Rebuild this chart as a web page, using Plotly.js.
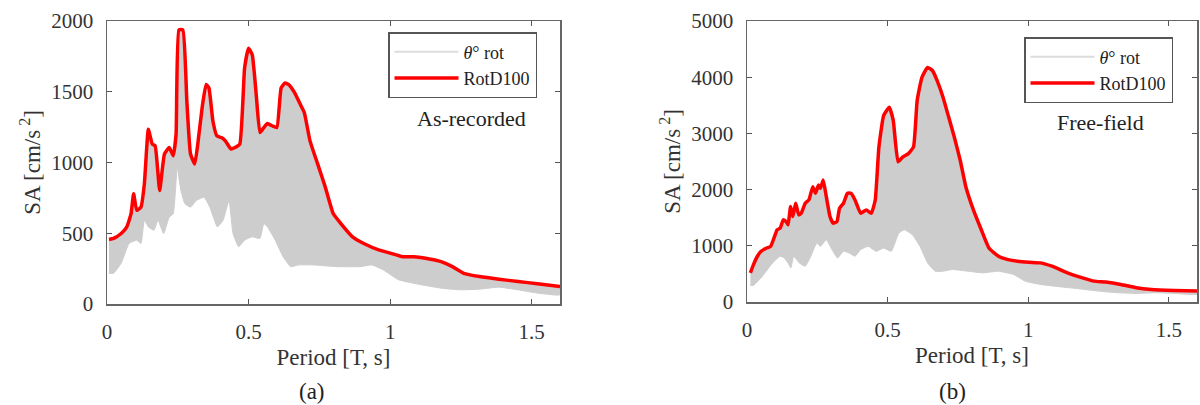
<!DOCTYPE html>
<html>
<head>
<meta charset="utf-8">
<script src="https://cdn.plot.ly/plotly-3.0.1.min.js"></script>
<style>html,body{margin:0;padding:0;background:#fff;}#chart{width:1200px;height:405px;}</style>
</head>
<body>
<div id="chart"></div>
<script>
// ---- Panel (a): As-recorded ----
var aRotT  = [0.007,0.023,0.05,0.07,0.085,0.094,0.105,0.12,0.132,0.146,0.16,0.17,0.186,0.203,0.22,0.234,0.244,0.254,0.268,0.282,0.295,0.31,0.322,0.336,0.35,0.36,0.374,0.388,0.404,0.418,0.438,0.452,0.469,0.486,0.5,0.513,0.527,0.54,0.554,0.567,0.584,0.6,0.615,0.629,0.642,0.663,0.683,0.697,0.717,0.744,0.771,0.799,0.826,0.867,0.907,0.962,1.003,1.044,1.084,1.125,1.18,1.22,1.26,1.316,1.384,1.452,1.52,1.6];
var aRotSA = [456,463,498,545,638,779,662,685,849,1235,1130,1118,802,1060,1106,1048,1200,1937,1937,1434,1060,990,1153,1387,1551,1527,1293,1188,1176,1153,1095,1106,1130,1668,1808,1761,1481,1212,1247,1275,1258,1247,1527,1562,1551,1492,1410,1352,1153,990,826,639,568,475,428,381,358,334,334,323,299,264,217,194,175,159,143,124];
var aMinT  = [0.007,0.023,0.05,0.078,0.105,0.12,0.132,0.146,0.166,0.18,0.2,0.22,0.234,0.248,0.261,0.275,0.295,0.316,0.343,0.363,0.39,0.41,0.431,0.445,0.465,0.486,0.513,0.54,0.554,0.567,0.594,0.622,0.649,0.676,0.73,0.812,0.894,0.935,0.976,1.03,1.11,1.18,1.248,1.316,1.384,1.452,1.52,1.6];
var aMinSA = [217,217,288,428,451,428,592,545,522,592,498,615,638,966,802,709,685,732,755,685,545,592,732,498,405,451,475,463,568,545,451,334,264,276,276,264,264,276,241,171,136,112,100,105,119,100,77,65];

// ---- Panel (b): Free-field ----
var bRotT  = [0.012,0.023,0.037,0.05,0.07,0.084,0.098,0.107,0.118,0.129,0.139,0.146,0.155,0.163,0.173,0.184,0.193,0.207,0.22,0.234,0.244,0.254,0.261,0.271,0.282,0.295,0.306,0.32,0.329,0.343,0.357,0.37,0.384,0.404,0.424,0.442,0.456,0.469,0.486,0.506,0.52,0.537,0.554,0.574,0.592,0.605,0.622,0.642,0.66,0.676,0.697,0.717,0.737,0.758,0.778,0.805,0.833,0.86,0.894,0.928,0.962,1.003,1.044,1.084,1.139,1.193,1.234,1.275,1.329,1.384,1.438,1.52,1.6];
var bRotSA = [519,666,814,902,961,990,1167,1285,1315,1462,1433,1374,1698,1521,1757,1551,1580,1757,1816,2052,1934,2081,2022,2170,1875,1521,1403,1433,1669,1757,1934,1934,1816,1580,1639,1580,1816,2759,3319,3467,3231,2494,2582,2641,2759,3585,3998,4174,4115,3938,3644,3290,2936,2523,2052,1639,1285,961,814,755,725,707,696,637,519,430,371,354,312,254,224,206,195];
var bMinT  = [0.012,0.023,0.05,0.091,0.118,0.132,0.146,0.156,0.166,0.186,0.207,0.227,0.248,0.261,0.282,0.302,0.322,0.343,0.363,0.384,0.404,0.431,0.459,0.486,0.513,0.54,0.56,0.588,0.615,0.642,0.669,0.697,0.73,0.785,0.839,0.894,0.948,0.989,1.044,1.112,1.18,1.248,1.316,1.384,1.452,1.52,1.6];
var bMinSA = [295,295,430,696,814,784,696,607,814,696,637,814,1049,990,1108,932,784,902,873,814,932,990,902,961,902,1226,1285,1197,990,696,548,548,578,548,519,548,489,371,312,271,236,195,165,153,165,153,136];

var xTickVals = [0, 0.5, 1, 1.5];
var xTickText = ['0', '0.5', '1', '1.5'];
var aYTicks = [0, 500, 1000, 1500, 2000];
var bYTicks = [0, 1000, 2000, 3000, 4000, 5000];

var FONT = '"Liberation Serif", "Times New Roman", serif';
var BAND = '#cdcdcd';
var RED = '#ff0000';

function band(tU, sU, tL, sL, xa, ya) {
  return {
    x: tU.concat(tL.slice().reverse()),
    y: sU.concat(sL.slice().reverse()),
    xaxis: xa, yaxis: ya,
    type: 'scatter', mode: 'lines', fill: 'toself',
    fillcolor: BAND, line: {color: BAND, width: 1, shape: 'spline', smoothing: 0.4},
    showlegend: false, hoverinfo: 'skip'
  };
}
function legGray(xa, ya, leg) {
  return {x: [null], y: [null], xaxis: xa, yaxis: ya, type: 'scatter', mode: 'lines',
    name: '<i>θ</i>° rot', line: {color: '#dcdcdc', width: 2}, legend: leg};
}
function redLine(t, s, xa, ya, leg) {
  return {x: t, y: s, xaxis: xa, yaxis: ya, type: 'scatter', mode: 'lines',
    name: 'RotD100', line: {color: RED, width: 3.5, shape: 'spline', smoothing: 0.4}, legend: leg};
}

var data = [
  band(aRotT, aRotSA, aMinT, aMinSA, 'x', 'y'),
  legGray('x', 'y', 'legend'),
  redLine(aRotT, aRotSA, 'x', 'y', 'legend'),
  band(bRotT, bRotSA, bMinT, bMinSA, 'x2', 'y2'),
  legGray('x2', 'y2', 'legend2'),
  redLine(bRotT, bRotSA, 'x2', 'y2', 'legend2')
];

function xAxis(dom, anchor) {
  return {
    domain: dom, anchor: anchor, range: [0, 1.6],
    tickvals: xTickVals, ticktext: xTickText,
    ticks: 'inside', ticklen: 5, tickwidth: 1, tickcolor: '#555',
    showline: true, linecolor: '#666', linewidth: 1.5, mirror: 'ticks',
    showgrid: false, zeroline: false, ticklabelstandoff: 8,
    tickfont: {family: FONT, size: 21, color: '#333'},
    title: {text: 'Period [T, s]', font: {family: FONT, size: 23, color: '#333'}, standoff: 6}
  };
}
function yAxis(dom, anchor, rng, tv) {
  return {
    domain: dom, anchor: anchor, range: rng, tickvals: tv,
    ticks: 'inside', ticklen: 5, tickwidth: 1, tickcolor: '#555',
    showline: true, linecolor: '#666', linewidth: 1.5, mirror: 'ticks',
    showgrid: false, zeroline: false, ticklabelstandoff: 8,
    tickfont: {family: FONT, size: 21, color: '#333'},
    title: {text: 'SA [cm/s<sup> 2</sup>]', font: {family: FONT, size: 23, color: '#333'}, standoff: 4}
  };
}

var layout = {
  width: 1200, height: 405,
  margin: {l: 0, r: 0, t: 0, b: 0},
  paper_bgcolor: '#fff', plot_bgcolor: '#fff',
  font: {family: FONT, color: '#222'},
  xaxis: xAxis([107/1200, 560/1200], 'y'),
  yaxis: yAxis([1 - 304/405, 1 - 21/405], 'x', [0, 2000], aYTicks),
  xaxis2: xAxis([747/1200, 1197/1200], 'y2'),
  yaxis2: yAxis([1 - 302/405, 1 - 21/405], 'x2', [0, 5000], bYTicks),
  legend: {x: 388/1200, y: 1 - 32/405, xanchor: 'left', yanchor: 'top',
    bgcolor: '#fff', bordercolor: '#555', borderwidth: 1.5, itemwidth: 64,
    font: {family: FONT, size: 18, color: '#222'}, tracegroupgap: 0},
  legend2: {x: 1024/1200, y: 1 - 37/405, xanchor: 'left', yanchor: 'top',
    bgcolor: '#fff', bordercolor: '#555', borderwidth: 1.5, itemwidth: 64,
    font: {family: FONT, size: 18, color: '#222'}, tracegroupgap: 0},
  annotations: [
    {text: 'As-recorded', x: 471/1200, y: 1 - 118/405, xref: 'paper', yref: 'paper',
      xanchor: 'center', yanchor: 'middle',
      showarrow: false, font: {family: FONT, size: 22, color: '#222'}},
    {text: 'Free-field', x: 1100/1200, y: 1 - 122/405, xref: 'paper', yref: 'paper',
      xanchor: 'center', yanchor: 'middle',
      showarrow: false, font: {family: FONT, size: 22, color: '#222'}},
    {text: '(a)', x: 312/1200, y: 1 - 391/405, xref: 'paper', yref: 'paper',
      xanchor: 'center', yanchor: 'middle',
      showarrow: false, font: {family: FONT, size: 23, color: '#222'}},
    {text: '(b)', x: 952/1200, y: 1 - 391/405, xref: 'paper', yref: 'paper',
      xanchor: 'center', yanchor: 'middle',
      showarrow: false, font: {family: FONT, size: 23, color: '#222'}}
  ]
};

Plotly.newPlot('chart', data, layout, {displayModeBar: false, staticPlot: true});
</script>
</body>
</html>
